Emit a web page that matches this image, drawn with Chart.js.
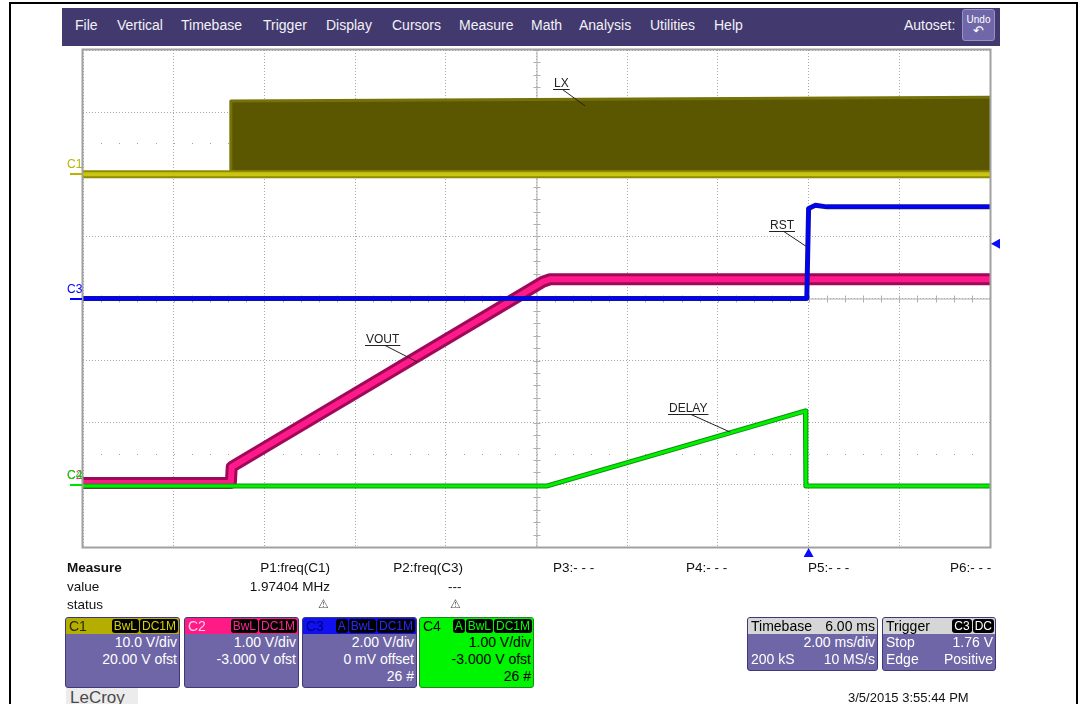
<!DOCTYPE html>
<html>
<head>
<meta charset="utf-8">
<script src="https://cdn.jsdelivr.net/npm/chart.js@4.4.1/dist/chart.umd.min.js"></script>
<style>
body{margin:0;width:1084px;height:704px;overflow:hidden;background:#fff;font-family:"Liberation Sans",Arial,sans-serif;position:relative}
#scope{position:absolute;left:0;top:0}
.frame{position:absolute;left:9px;top:2px;width:1065px;height:720px;border:2px solid #000;border-bottom:none}
.menu{position:absolute;left:62px;top:8px;width:938px;height:38px;background:#42396f}
.menu span{position:absolute;top:9px;color:#f2f2f6;font-size:14px;white-space:nowrap}
.undo{position:absolute;left:962px;top:9px;width:33px;height:32px;background:#6f67a8;border:1px solid #9891c8;border-radius:3px;color:#fff;font-size:10px;text-align:center;line-height:11px;box-sizing:border-box;padding-top:4px}
.t{position:absolute;font-size:13.5px;color:#111;white-space:nowrap}
.r{text-align:right}
.warn{position:absolute;font-size:12px;color:#444}
.ch{position:absolute;top:617px;height:71px;background:#6e66a6;border:1px solid #3e3878;border-radius:3px;box-sizing:border-box;color:#fff;font-size:14px}
.hd{height:16px;line-height:16px;font-size:14px;padding-left:3px;border-radius:2px 2px 0 0;position:relative}
.bds{position:absolute;right:1px;top:1px;display:flex;gap:1px}
.bd{background:#000;border-radius:3px;font-size:12px;line-height:14px;padding:0 2px}
.row{text-align:right;padding-right:2px;height:17px;line-height:17px}
.lecroy{position:absolute;left:66px;top:688px;width:72px;height:18px;background:#ececec;color:#4a4a4a;font-size:17px;line-height:20px;padding-left:4px;box-sizing:border-box}
</style>
</head>
<body>
<div class="frame"></div>
<div class="menu">
  <span style="left:13px">File</span>
  <span style="left:55px">Vertical</span>
  <span style="left:119px">Timebase</span>
  <span style="left:201px">Trigger</span>
  <span style="left:264px">Display</span>
  <span style="left:330px">Cursors</span>
  <span style="left:397px">Measure</span>
  <span style="left:469px">Math</span>
  <span style="left:517px">Analysis</span>
  <span style="left:588px">Utilities</span>
  <span style="left:652px">Help</span>
  <span style="left:842px">Autoset:</span>
</div>
<div class="undo">Undo<br><span style="font-size:13px">&#8630;</span></div>

<canvas id="scope" width="1084" height="704"></canvas>

<div class="t" style="left:67px;top:560px;font-weight:bold">Measure</div>
<div class="t" style="left:67px;top:579px">value</div>
<div class="t" style="left:67px;top:597px">status</div>
<div class="t r" style="left:230px;width:100px;top:560px">P1:freq(C1)</div>
<div class="t r" style="left:230px;width:100px;top:579px">1.97404 MHz</div>
<div class="warn" style="left:318px;top:597px">&#9888;</div>
<div class="t r" style="left:363px;width:100px;top:560px">P2:freq(C3)</div>
<div class="t" style="left:448px;top:579px">---</div>
<div class="warn" style="left:450px;top:597px">&#9888;</div>
<div class="t" style="left:553px;top:560px">P3:- - -</div>
<div class="t" style="left:686px;top:560px">P4:- - -</div>
<div class="t" style="left:808px;top:560px">P5:- - -</div>
<div class="t" style="left:950px;top:560px">P6:- - -</div>

<div class="ch" style="left:65px;width:115px">
  <div class="hd" style="background:#b3ae00;color:#2a2800">C1<div class="bds"><span class="bd" style="color:#d6d200">BwL</span><span class="bd" style="color:#d6d200">DC1M</span></div></div>
  <div class="row">10.0 V/div</div>
  <div class="row">20.00 V ofst</div>
</div>
<div class="ch" style="left:184px;width:115px">
  <div class="hd" style="background:#ff1a86;color:#ffd0e6">C2<div class="bds"><span class="bd" style="color:#ff2a90">BwL</span><span class="bd" style="color:#ff2a90">DC1M</span></div></div>
  <div class="row">1.00 V/div</div>
  <div class="row">-3.000 V ofst</div>
</div>
<div class="ch" style="left:302px;width:115px">
  <div class="hd" style="background:#1010f0;color:#00007a">C3<div class="bds"><span class="bd" style="color:#2a2aff">A</span><span class="bd" style="color:#2a2aff">BwL</span><span class="bd" style="color:#2a2aff">DC1M</span></div></div>
  <div class="row">2.00 V/div</div>
  <div class="row">0 mV offset</div>
  <div class="row">26 #</div>
</div>
<div class="ch" style="left:419px;width:115px;background:#00f500;border-color:#1a8a1a;color:#000">
  <div class="hd" style="background:#00f500;color:#000">C4<div class="bds"><span class="bd" style="color:#00ff00">A</span><span class="bd" style="color:#00ff00">BwL</span><span class="bd" style="color:#00ff00">DC1M</span></div></div>
  <div class="row">1.00 V/div</div>
  <div class="row">-3.000 V ofst</div>
  <div class="row">26 #</div>
</div>

<div class="ch" style="left:747px;width:131px;height:54px">
  <div class="hd" style="background:#d6d6d6;color:#000">Timebase<span style="position:absolute;right:2px">6.00 ms</span></div>
  <div class="row">2.00 ms/div</div>
  <div class="row" style="position:relative"><span style="position:absolute;left:3px">200 kS</span>10 MS/s</div>
</div>
<div class="ch" style="left:882px;width:114px;height:54px">
  <div class="hd" style="background:#d6d6d6;color:#000">Trigger<div class="bds"><span class="bd" style="color:#fff">C3</span><span class="bd" style="color:#fff">DC</span></div></div>
  <div class="row" style="position:relative"><span style="position:absolute;left:3px">Stop</span>1.76 V</div>
  <div class="row" style="position:relative"><span style="position:absolute;left:3px">Edge</span>Positive</div>
</div>

<div class="lecroy">LeCroy</div>
<div class="t" style="left:848px;top:690px;font-size:13px">3/5/2015 3:55:44 PM</div>

<script>
// channel settings
var channelNames = ["C1", "C2", "C3", "C4"];
var voltsPerDiv = [10, 1, 2, 1];
var offsetVolts = [20, -3, 0, -3];
var triggerLevel = 1.76;   // V on C3
var triggerTime = 0;       // ms

// time axis, ms
var timeMin = -16, timeMax = 4, msPerDiv = 2;

// C1 LX switching node: envelope top and low level
var lxTime  = [-16, -12.74, -12.74, 4];
var lxVolts = [0, 0, 11.8, 12.4];
var lxFloor = -0.6;
var lxLowTime  = [-16, 4];
var lxLowVolts = [0, 0];

// C2 VOUT
var voutTime  = [-16, -12.74, -12.72, -5.86, -5.7, 4];
var voutVolts = [0.03, 0.03, 0.29, 3.27, 3.31, 3.31];

// C3 RST
var rstTime  = [-16, -0.04, 0.0, 0.15, 0.4, 4];
var rstVolts = [0, 0, 2.9, 3.0, 2.95, 2.95];

// C4 DELAY
var delayTime  = [-16, -5.78, -0.07, -0.06, 4];
var delayVolts = [-0.02, -0.02, 1.19, -0.02, -0.02];

// trace labels: name, channel, anchor time (ms), anchor volts
var labelNames   = ["LX", "VOUT", "RST", "DELAY"];
var labelChannel = [0, 1, 2, 3];
var labelTime    = [-4.93, -8.63, -0.035, -1.73];
var labelVolts   = [11.0, 1.98, 1.66, 0.85];
var labelDx = [-32, -52, -38, -62];
var labelDy = [-17, -17, -16, -18];

function toDiv(ch, v){
    return (v + offsetVolts[ch]) / voltsPerDiv[ch];
}
function puntos(ch, tiempos, voltios){
    var res = [];
    for (var i = 0; i < tiempos.length; i++) {
        res.push({x: tiempos[i], y: toDiv(ch, voltios[i])});
    }
    return res;
}
function linea(label, data, color, ancho, orden){
    return {label: label, data: data, borderColor: color, borderWidth: ancho,
            pointRadius: 0, tension: 0, fill: false, order: orden,
            borderJoinStyle: "round", borderCapStyle: "butt"};
}

var lx = linea("LX", puntos(0, lxTime, lxVolts), "#76720a", 3, 9);
lx.backgroundColor = "#5a5700";
lx.fill = {value: toDiv(0, lxFloor)};

var datasets = [
    lx,
    linea("LX low", puntos(0, lxLowTime, lxLowVolts), "#8f8b00", 8, 8),
    linea("LX low core", puntos(0, lxLowTime, lxLowVolts), "#c9c512", 4, 7),
    linea("VOUT", puntos(1, voutTime, voutVolts), "#a0085a", 12, 6),
    linea("VOUT core", puntos(1, voutTime, voutVolts), "#ff1a8a", 6, 5),
    linea("RST", puntos(2, rstTime, rstVolts), "#10109a", 5, 4),
    linea("RST core", puntos(2, rstTime, rstVolts), "#0000ff", 3, 3),
    linea("DELAY", puntos(3, delayTime, delayVolts), "#109010", 5, 2),
    linea("DELAY core", puntos(3, delayTime, delayVolts), "#00f000", 3, 1)
];

var chColors = ["#b8b400", "#ff1a8a", "#0000ff", "#00e000"];

var extras = {
    id: "extras",
    beforeDatasetsDraw: function(chart){
        var ctx = chart.ctx, a = chart.chartArea;
        var sx = chart.scales.x, sy = chart.scales.y;
        ctx.save();
        // center axes
        var cx = sx.getPixelForValue((timeMin + timeMax) / 2), cy = sy.getPixelForValue(0);
        ctx.strokeStyle = "#b0b0b0";
        ctx.lineWidth = 1;
        ctx.beginPath();
        ctx.moveTo(cx + 0.5, a.top); ctx.lineTo(cx + 0.5, a.bottom);
        ctx.moveTo(a.left, cy + 0.5); ctx.lineTo(a.right, cy + 0.5);
        for (var d = -4; d <= 4.001; d += 0.2) {
            var yy = Math.round(sy.getPixelForValue(d)) + 0.5;
            ctx.moveTo(cx - 3, yy); ctx.lineTo(cx + 4, yy);
        }
        for (var t = timeMin; t <= timeMax + 0.001; t += msPerDiv / 5) {
            var xx = Math.round(sx.getPixelForValue(t)) + 0.5;
            ctx.moveTo(xx, cy - 3); ctx.lineTo(xx, cy + 4);
        }
        ctx.stroke();
        // dotted rows at +/-2.5 div
        ctx.fillStyle = "#a0a0a0";
        [2.5, -2.5].forEach(function(r){
            var yy = Math.round(sy.getPixelForValue(r));
            for (var t = timeMin + msPerDiv / 5; t < timeMax; t += msPerDiv / 5) {
                ctx.fillRect(Math.round(sx.getPixelForValue(t)), yy, 1, 1);
            }
        });
        ctx.restore();
    },
    afterDatasetsDraw: function(chart){
        var ctx = chart.ctx, a = chart.chartArea;
        var sx = chart.scales.x, sy = chart.scales.y;
        ctx.save();
        // border
        ctx.strokeStyle = "#a0a0a0";
        ctx.lineWidth = 2;
        ctx.strokeRect(a.left - 0.5, a.top - 0.5, a.right - a.left + 1, a.bottom - a.top + 1);
        // channel ground markers
        ctx.font = "12px 'Liberation Sans', Arial, sans-serif";
        ctx.textBaseline = "alphabetic";
        [1, 3, 2, 0].forEach(function(ch){
            var y = Math.round(sy.getPixelForValue(toDiv(ch, 0)));
            ctx.fillStyle = chColors[ch];
            ctx.fillRect(a.left - 13, y - 1, 12, 2);
            ctx.fillText(channelNames[ch], a.left - 16, y - 6);
        });
        // trace labels with leaders
        ctx.font = "12px 'Liberation Sans', Arial, sans-serif";
        ctx.strokeStyle = "#222";
        ctx.fillStyle = "#222";
        ctx.lineWidth = 1;
        for (var i = 0; i < labelNames.length; i++) {
            var ax = sx.getPixelForValue(labelTime[i]);
            var ay = sy.getPixelForValue(toDiv(labelChannel[i], labelVolts[i]));
            var ux = Math.round(ax + labelDx[i]), uy = Math.round(ay + labelDy[i]) + 0.5;
            var w = ctx.measureText(labelNames[i]).width + 2;
            ctx.fillText(labelNames[i], ux + 1, uy - 3);
            ctx.beginPath();
            ctx.moveTo(ux, uy); ctx.lineTo(ux + w, uy);
            ctx.moveTo(ux + w * 0.57, uy); ctx.lineTo(ax, ay);
            ctx.stroke();
        }
        // trigger markers
        ctx.fillStyle = "#0a0aff";
        var ty = sy.getPixelForValue(toDiv(2, triggerLevel));
        ctx.beginPath();
        ctx.moveTo(a.right + 1, ty); ctx.lineTo(a.right + 10, ty - 5); ctx.lineTo(a.right + 10, ty + 5);
        ctx.closePath(); ctx.fill();
        var tx = sx.getPixelForValue(triggerTime);
        ctx.beginPath();
        ctx.moveTo(tx, a.bottom + 1); ctx.lineTo(tx - 5, a.bottom + 10); ctx.lineTo(tx + 5, a.bottom + 10);
        ctx.closePath(); ctx.fill();
        ctx.restore();
    }
};

var ctx = document.getElementById("scope").getContext("2d");
var chart = new Chart(ctx, {
    type: "line",
    data: {datasets: datasets},
    options: {
        responsive: false,
        animation: false,
        devicePixelRatio: 1,
        layout: {padding: {left: 83, top: 50, right: 94, bottom: 157}},
        plugins: {legend: {display: false}, tooltip: {enabled: false}},
        scales: {
            x: {type: "linear", min: timeMin, max: timeMax,
                ticks: {display: false, stepSize: msPerDiv},
                grid: {color: "#a8a8a8", lineWidth: 1, drawTicks: false},
                border: {display: false, dash: [1, 2]}},
            y: {type: "linear", min: -4, max: 4,
                ticks: {display: false, stepSize: 1},
                grid: {color: "#a8a8a8", lineWidth: 1, drawTicks: false},
                border: {display: false, dash: [1, 2]}}
        }
    },
    plugins: [extras]
});
</script>
</body>
</html>
